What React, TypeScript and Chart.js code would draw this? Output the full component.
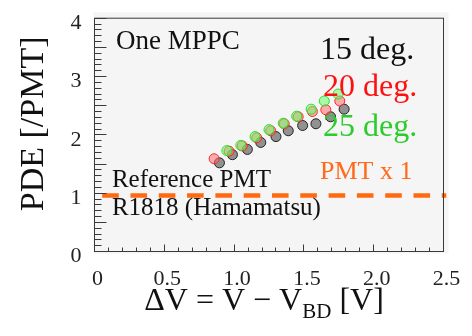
import { useEffect, useRef } from 'react';
import { Chart, registerables } from 'chart.js';

Chart.register(...registerables);

// ---- data ----
const deg15X = [0.895, 0.988, 1.095, 1.191, 1.3, 1.388, 1.491, 1.586, 1.691, 1.788];
const deg15Y = [1.52, 1.66, 1.75, 1.87, 1.97, 2.07, 2.16, 2.19, 2.31, 2.44];
const deg20X = [0.857, 0.964, 1.059, 1.162, 1.262, 1.359, 1.459, 1.561, 1.657, 1.757];
const deg20Y = [1.59, 1.72, 1.81, 1.95, 2.07, 2.19, 2.31, 2.4, 2.43, 2.58];
const deg25X = [0.948, 1.048, 1.15, 1.25, 1.352, 1.448, 1.552, 1.646, 1.745];
const deg25Y = [1.73, 1.82, 1.97, 2.09, 2.2, 2.32, 2.44, 2.58, 2.7];
const pmtX = [0.055, 2.52];
const pmtY = [0.96, 0.96];
const xTickLabels = ['0', '0.5', '1.0', '1.5', '2.0', '2.5'];
const yTickLabels = ['0', '1', '2', '3', '4'];
const annotations = [
  { text: 'One MPPC', x: 0.154, y: 3.467, color: '#111111', size: 27 },
  { text: '15 deg.', x: 1.615, y: 3.3, color: '#111111', size: 32 },
  { text: '20 deg.', x: 1.637, y: 2.667, color: '#ff1010', size: 32 },
  { text: '25 deg.', x: 1.637, y: 1.975, color: '#2ccc2c', size: 32 },
  { text: 'PMT x 1', x: 1.615, y: 1.25, color: '#ff6a1a', size: 26 },
  { text: 'Reference PMT', x: 0.125, y: 1.108, color: '#111111', size: 25 },
  { text: 'R1818 (Hamamatsu)', x: 0.125, y: 0.633, color: '#111111', size: 25 },
];

const FONT = '"Liberation Serif", "Times New Roman", serif';

const toPts = (xs: number[], ys: number[]) => xs.map((x, i) => ({ x, y: ys[i] }));

const decor = {
  id: 'decor',
  beforeDraw(chart: any) {
    const { ctx, chartArea: a } = chart;
    ctx.save();
    ctx.fillStyle = '#f5f5f5';
    ctx.fillRect(a.left - 1, a.top - 6, a.right - a.left + 6, a.bottom - a.top + 8);
    ctx.restore();
  },
  afterDraw(chart: any) {
    const { ctx, chartArea: a, scales } = chart;
    const xs = scales.x;
    const ys = scales.y;
    ctx.save();
    ctx.strokeStyle = '#3a3a3a';
    ctx.lineWidth = 1;
    ctx.strokeRect(a.left, a.top, a.right - a.left, a.bottom - a.top);
    ctx.beginPath();
    for (let i = 1; i < 25; i++) {
      const px = Math.floor(xs.getPixelForValue(i / 10)) + 0.5;
      const len = i % 5 === 0 ? 7 : 4;
      ctx.moveTo(px, a.bottom);
      ctx.lineTo(px, a.bottom - len);
    }
    for (let i = 1; i <= 40; i++) {
      const py = Math.floor(ys.getPixelForValue(i / 10)) + 0.5;
      const len = i % 5 === 0 ? 12 : 7;
      ctx.moveTo(a.left, py);
      ctx.lineTo(a.left + len, py);
    }
    ctx.stroke();

    // annotations
    ctx.textBaseline = 'alphabetic';
    ctx.textAlign = 'left';
    for (const t of annotations) {
      ctx.fillStyle = t.color;
      ctx.font = `${t.size}px ${FONT}`;
      ctx.fillText(t.text, xs.getPixelForValue(t.x), ys.getPixelForValue(t.y));
    }

    // x axis title with subscript
    ctx.fillStyle = '#111111';
    const mainFont = `32px ${FONT}`;
    const subFont = `21px ${FONT}`;
    const p1 = 'ΔV = V − V';
    const p2 = 'BD';
    const p3 = ' [V]';
    ctx.font = mainFont;
    const w1 = ctx.measureText(p1).width;
    const w3 = ctx.measureText(p3).width;
    ctx.font = subFont;
    const w2 = ctx.measureText(p2).width;
    const total = w1 + w2 + w3;
    let x0 = (a.left + a.right) / 2 - 5 - total / 2;
    const base = a.bottom + 58;
    ctx.font = mainFont;
    ctx.fillText(p1, x0, base);
    x0 += w1;
    ctx.font = subFont;
    ctx.fillText(p2, x0, base + 8);
    x0 += w2;
    ctx.font = mainFont;
    ctx.fillText(p3, x0, base);

    // y axis title
    ctx.save();
    ctx.translate(43, (a.top + a.bottom) / 2 - 11);
    ctx.rotate(-Math.PI / 2);
    ctx.textAlign = 'center';
    ctx.font = `34px ${FONT}`;
    ctx.fillText('PDE [/PMT]', 0, 0);
    ctx.restore();

    ctx.restore();
  },
};

export default function App() {
  const ref = useRef<HTMLCanvasElement | null>(null);
  useEffect(() => {
    if (!ref.current) return;
    const chart = new Chart(ref.current, {
      type: 'scatter',
      data: {
        datasets: [
          {
            label: '25 deg.',
            data: toPts(deg25X, deg25Y),
            order: 0,
            pointRadius: 5,
            pointBorderWidth: 1,
            backgroundColor: 'rgba(110,250,110,0.55)',
            borderColor: '#2fe02f',
          },
          {
            label: '20 deg.',
            data: toPts(deg20X, deg20Y),
            order: 1,
            pointRadius: 5,
            pointBorderWidth: 1,
            backgroundColor: 'rgba(255,110,110,0.55)',
            borderColor: '#ff2a2a',
          },
          {
            label: '15 deg.',
            data: toPts(deg15X, deg15Y),
            order: 2,
            pointRadius: 5,
            pointBorderWidth: 1,
            backgroundColor: 'rgba(120,120,120,0.8)',
            borderColor: '#222222',
          },
          {
            label: 'PMT x 1',
            data: toPts(pmtX, pmtY),
            order: 3,
            showLine: true,
            pointRadius: 0,
            borderWidth: 4.5,
            borderColor: '#ff6a10',
            borderDash: [16.6, 11.7],
            clip: false,
          } as any,
        ],
      },
      options: {
        animation: false,
        responsive: false,
        devicePixelRatio: 1,
        layout: { padding: { left: 0, top: 11.5, right: 28.5, bottom: 0 } },
        plugins: { legend: { display: false }, tooltip: { enabled: false }, title: { display: false } },
        scales: {
          x: {
            type: 'linear',
            min: 0,
            max: 2.5,
            grid: { display: false },
            border: { display: false },
            ticks: {
              stepSize: 0.5,
              autoSkip: false,
              maxRotation: 0,
              padding: 7,
              labelOffset: 3,
              color: '#222222',
              font: { family: FONT, size: 22 },
              callback: (v: any) => xTickLabels[Math.round(Number(v) / 0.5)] ?? '',
            },
            afterFit: (s: any) => {
              s.height = 84.5;
            },
          },
          y: {
            type: 'linear',
            min: 0,
            max: 4,
            grid: { display: false },
            border: { display: false },
            ticks: {
              stepSize: 1,
              autoSkip: false,
              padding: 5,
              labelOffset: 5,
              color: '#222222',
              font: { family: FONT, size: 22 },
              callback: (v: any) => yTickLabels[Math.round(Number(v))] ?? '',
            },
            afterFit: (s: any) => {
              s.width = 94.5;
            },
          },
        },
      },
      plugins: [decor],
    });
    return () => chart.destroy();
  }, []);
  return (
    <div style={{ position: 'fixed', left: 0, top: 0, width: 472, height: 336, background: '#ffffff' }}>
      <canvas ref={ref} width={472} height={336} style={{ width: 472, height: 336, display: 'block' }} />
    </div>
  );
}
